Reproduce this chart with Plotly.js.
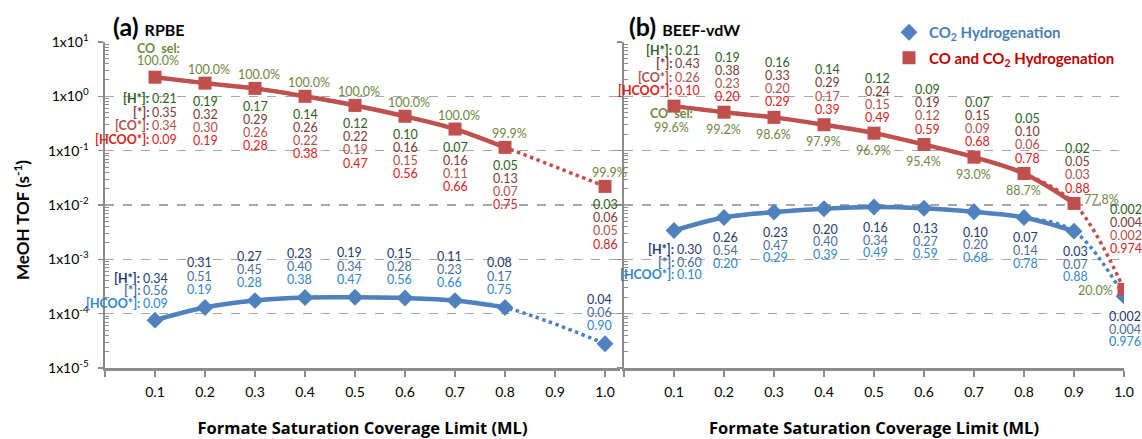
<!DOCTYPE html>
<html><head><meta charset="utf-8">
<script src="https://cdn.plot.ly/plotly-3.0.1.min.js"></script>
<style>html,body{margin:0;padding:0;background:#fff}#chart{width:1142px;height:439px}</style>
</head><body><div id="chart"></div>
<script>
// ---------- DATA ----------
const xTickVals = [0, 0.1, 0.2, 0.3, 0.4, 0.5, 0.6, 0.7, 0.8, 0.9, 1.0];
const xTickText = ['', '0.1', '0.2', '0.3', '0.4', '0.5', '0.6', '0.7', '0.8', '0.9', '1.0'];
const yTickVals = [1e1, 1e0, 1e-1, 1e-2, 1e-3, 1e-4, 1e-5];
const yTickText = ['1x10<sup>1</sup>', '1x10<sup>0</sup>', '1x10<sup>-1</sup>', '1x10<sup>-2</sup>', '1x10<sup>-3</sup>', '1x10<sup>-4</sup>', '1x10<sup>-5</sup>'];

// (a) RPBE
const rpbeX = [0.1, 0.2, 0.3, 0.4, 0.5, 0.6, 0.7, 0.8, 1.0];
const rpbeCO_TOF = [2.25, 1.75, 1.40, 1.00, 0.68, 0.43, 0.25, 0.115, 0.022];
const rpbeCO2_TOF = [7.6e-5, 1.3e-4, 1.74e-4, 1.98e-4, 2.0e-4, 1.94e-4, 1.74e-4, 1.3e-4, 2.8e-5];
const rpbeCO_sel = ['100.0%', '100.0%', '100.0%', '100.0%', '100.0%', '100.0%', '100.0%', '99.9%', '99.9%'];
const rpbeCO_H = ['0.21', '0.19', '0.17', '0.14', '0.12', '0.10', '0.07', '0.05', '0.03'];
const rpbeCO_empty = ['0.35', '0.32', '0.29', '0.26', '0.22', '0.16', '0.16', '0.13', '0.06'];
const rpbeCO_CO = ['0.34', '0.30', '0.26', '0.22', '0.19', '0.15', '0.11', '0.07', '0.05'];
const rpbeCO_HCOO = ['0.09', '0.19', '0.28', '0.38', '0.47', '0.56', '0.66', '0.75', '0.86'];
const rpbeCO2_H = ['0.34', '0.31', '0.27', '0.23', '0.19', '0.15', '0.11', '0.08', '0.04'];
const rpbeCO2_empty = ['0.56', '0.51', '0.45', '0.40', '0.34', '0.28', '0.23', '0.17', '0.06'];
const rpbeCO2_HCOO = ['0.09', '0.19', '0.28', '0.38', '0.47', '0.56', '0.66', '0.75', '0.90'];
const rpbeSolidCount = 8;

// (b) BEEF-vdW
const beefX = [0.1, 0.2, 0.3, 0.4, 0.5, 0.6, 0.7, 0.8, 0.9, 1.0];
const beefCO_TOF = [0.66, 0.51, 0.41, 0.30, 0.21, 0.13, 0.076, 0.038, 0.0107, 2.8e-4];
const beefCO2_TOF = [3.4e-3, 5.9e-3, 7.4e-3, 8.55e-3, 9.2e-3, 8.7e-3, 7.5e-3, 5.9e-3, 3.3e-3, 2.1e-4];
const beefCO_sel = ['99.6%', '99.2%', '98.6%', '97.9%', '96.9%', '95.4%', '93.0%', '88.7%', '77.8%', '20.0%'];
const beefCO_H = ['0.21', '0.19', '0.16', '0.14', '0.12', '0.09', '0.07', '0.05', '0.02', '0.002'];
const beefCO_empty = ['0.43', '0.38', '0.33', '0.29', '0.24', '0.19', '0.15', '0.10', '0.05', '0.004'];
const beefCO_CO = ['0.26', '0.23', '0.20', '0.17', '0.15', '0.12', '0.09', '0.06', '0.03', '0.002'];
const beefCO_HCOO = ['0.10', '0.20', '0.29', '0.39', '0.49', '0.59', '0.68', '0.78', '0.88', '0.974'];
const beefCO2_H = ['0.30', '0.26', '0.23', '0.20', '0.16', '0.13', '0.10', '0.07', '0.03', '0.002'];
const beefCO2_empty = ['0.60', '0.54', '0.47', '0.40', '0.34', '0.27', '0.20', '0.14', '0.07', '0.004'];
const beefCO2_HCOO = ['0.10', '0.20', '0.29', '0.39', '0.49', '0.59', '0.68', '0.78', '0.88', '0.976'];
const beefSolidCount = 9;

const seriesNames = ['CO<sub>2</sub> Hydrogenation', 'CO and CO<sub>2</sub> Hydrogenation'];

// ---------- STYLE ----------
const FONT = 'Lato, "Open Sans", sans-serif';
const FONT_WIDE = '"Open Sans", Lato, sans-serif';
const C = {
  red: '#C0504D', blue: '#4F81BD', legRed: '#C00000', legBlue: '#4A7EBB',
  H: '#2B5E22', E: '#7B3A3A', CO: '#B0504C', HCOO: '#E0201B', sel: '#6F8540',
  bH: '#1F3A6E', bE: '#4C6E9E', bHCOO: '#2E87CC', axis: '#8C8C8C', grid: '#A6A6A6'
};

// ---------- TRACES ----------
const traces = [];
function addSeries(xs, ys, solidN, color, symbol, msize, xa, ya, legend, name) {
  traces.push({x: xs, y: ys, xaxis: xa, yaxis: ya, mode: 'lines', showlegend: false, hoverinfo: 'skip',
    line: {color: color, width: 3.5, dash: 'dot', shape: 'spline', smoothing: 1}});
  traces.push({x: xs.slice(0, solidN), y: ys.slice(0, solidN), xaxis: xa, yaxis: ya, mode: 'lines', showlegend: false, hoverinfo: 'skip',
    line: {color: color, width: 4.5, shape: 'spline', smoothing: 1}});
  return {x: xs, y: ys, xaxis: xa, yaxis: ya, mode: 'markers', showlegend: legend, name: name, hoverinfo: 'skip',
    marker: {symbol: symbol, size: msize, color: color}};
}
const mA_blue = addSeries(rpbeX, rpbeCO2_TOF, rpbeSolidCount, C.blue, 'diamond', 13, 'x', 'y', true,
  '<b><span style="color:' + C.legBlue + '">' + seriesNames[0] + '</span></b>');
const mA_red = addSeries(rpbeX, rpbeCO_TOF, rpbeSolidCount, C.red, 'square', 13, 'x', 'y', true,
  '<b><span style="color:' + C.legRed + '">' + seriesNames[1] + '</span></b>');
const mB_blue = addSeries(beefX, beefCO2_TOF, beefSolidCount, C.blue, 'diamond', 13, 'x2', 'y2', false, '');
const mB_red = addSeries(beefX, beefCO_TOF, beefSolidCount, C.red, 'square', 13, 'x2', 'y2', false, '');
mA_blue.legendgroup = 'g1'; mA_red.legendgroup = 'g2';
traces.push(mA_blue, mA_red, mB_blue, mB_red);

// ---------- ANNOTATIONS ----------
const ann = [];
function T(xr, yr, x, v, text, color, dx, dy, anchor, size) {
  ann.push({xref: xr, yref: yr, x: x, y: Math.log10(v), text: text, showarrow: false,
    xanchor: anchor || 'center', yanchor: 'middle', xshift: dx, yshift: dy,
    font: {family: FONT, size: size || 12.5, color: color}});
}
const STEP = 13.2;

// (a) red
const aRedRows = [[rpbeCO_H, '[H*]:', C.H], [rpbeCO_empty, '[*]:', C.E], [rpbeCO_CO, '[CO*]:', C.CO], [rpbeCO_HCOO, '[HCOO*]:', C.HCOO]];
rpbeX.forEach((x, i) => {
  const v = rpbeCO_TOF[i];
  if (i === 0) {
    T('x', 'y', x, v, '<b>CO  sel:</b>', C.sel, 3, 29);
    T('x', 'y', x, v, rpbeCO_sel[i], C.sel, 3, 17);
    aRedRows.forEach((r, k) => {
      T('x', 'y', x, v, '<b>' + r[1] + '</b>', r[2], -4, -21 - 13.8 * k, 'right');
      T('x', 'y', x, v, r[0][i], r[2], -5, -21 - 13.8 * k, 'left');
    });
  } else {
    T('x', 'y', x, v, rpbeCO_sel[i], C.sel, 4, 14);
    aRedRows.forEach((r, k) => T('x', 'y', x, v, r[0][i], r[2], 0, -18 - STEP * k));
  }
});
// (a) blue
const aBlueRows = [[rpbeCO2_H, '[H*]:', C.bH], [rpbeCO2_empty, '[*]:', C.bE], [rpbeCO2_HCOO, '[HCOO*]:', C.bHCOO]];
rpbeX.forEach((x, i) => {
  const v = rpbeCO2_TOF[i];
  if (i === 0) {
    aBlueRows.forEach((r, k) => {
      T('x', 'y', x, v, '<b>' + r[1] + '</b>', r[2], -13, 42 - 12.6 * k, 'right');
      T('x', 'y', x, v, r[0][i], r[2], -14, 42 - 12.6 * k, 'left');
    });
  } else {
    aBlueRows.forEach((r, k) => T('x', 'y', x, v, r[0][i], r[2], -6, 44.5 - STEP * k));
  }
});
// (b) red
const bRedRows = [[beefCO_H, '[H*]:', C.H], [beefCO_empty, '[*]:', C.E], [beefCO_CO, '[CO*]:', C.CO], [beefCO_HCOO, '[HCOO*]:', C.HCOO]];
beefX.forEach((x, i) => {
  const v = beefCO_TOF[i];
  if (i === 0) {
    bRedRows.forEach((r, k) => {
      T('x2', 'y2', x, v, '<b>' + r[1] + '</b>', r[2], 0, 56 - 13.6 * k, 'right');
      T('x2', 'y2', x, v, r[0][i], r[2], -1, 56 - 13.6 * k, 'left');
    });
    T('x2', 'y2', x, v, '<b>CO  sel:</b>', C.sel, -3, -7);
    T('x2', 'y2', x, v, beefCO_sel[i], C.sel, -3, -21);
  } else if (i === beefX.length - 1) {
    bRedRows.forEach((r, k) => T('x2', 'y2', x, v, r[0][i], r[2], 2, 80 - STEP * k));
    T('x2', 'y2', x, v, beefCO_sel[i], C.sel, -9, -1, 'right');
  } else {
    bRedRows.forEach((r, k) => T('x2', 'y2', x, v, r[0][i], r[2], 3, 55 - STEP * k));
    if (i === beefX.length - 2) T('x2', 'y2', x, v, beefCO_sel[i], C.sel, 8, 4, 'left');
    else T('x2', 'y2', x, v, beefCO_sel[i], C.sel, -1, -17);
  }
});
// (b) blue
const bBlueRows = [[beefCO2_H, '[H*]:', C.bH], [beefCO2_empty, '[*]:', C.bE], [beefCO2_HCOO, '[HCOO*]:', C.bHCOO]];
beefX.forEach((x, i) => {
  const v = beefCO2_TOF[i];
  if (i === 0) {
    bBlueRows.forEach((r, k) => {
      T('x2', 'y2', x, v, '<b>' + r[1] + '</b>', r[2], 2, -19 - 12.6 * k, 'right');
      T('x2', 'y2', x, v, r[0][i], r[2], 1, -19 - 12.6 * k, 'left');
    });
  } else {
    bBlueRows.forEach((r, k) => T('x2', 'y2', x, v, r[0][i], r[2], 1, -20.5 - 12.6 * k));
  }
});

// panel titles and y title
const ML = 105, MR = 18, MT = 42, MB = 71, W = 1142, H = 439;
const PW = W - ML - MR, PH = H - MT - MB;
const px = p => (p - ML) / PW;
const py = p => 1 - (p - MT) / PH;
ann.push({xref: 'paper', yref: 'paper', x: px(111), y: py(26), xanchor: 'left', yanchor: 'middle', showarrow: false,
  text: '<b>(a) <span style="font-size:16px">RPBE</span></b>', font: {family: FONT, size: 25, color: '#000'}});
ann.push({xref: 'paper', yref: 'paper', x: px(627), y: py(26), xanchor: 'left', yanchor: 'middle', showarrow: false,
  text: '<b>(b) <span style="font-size:16px">BEEF-vdW</span></b>', font: {family: FONT, size: 25, color: '#000'}});
ann.push({xref: 'paper', yref: 'paper', x: px(21), y: py(220), xanchor: 'center', yanchor: 'middle', showarrow: false, textangle: -90,
  text: '<b>MeOH TOF (s<sup>-1</sup>)</b>', font: {family: FONT, size: 17, color: '#000'}});

// ---------- LAYOUT ----------
const minorVals = [];
for (let e = -5; e <= 0; e++) for (let d = 2; d <= 9; d++) minorVals.push(d * Math.pow(10, e));

function xAx(domain, range, anchor) {
  return {domain: domain, range: range, anchor: anchor, tickmode: 'array', tickvals: xTickVals, ticktext: xTickText,
    ticks: 'outside', ticklen: 6, tickwidth: 1.5, tickcolor: C.axis, showline: true, linecolor: C.axis, linewidth: 2.5,
    showgrid: false, zeroline: false, tickfont: {family: FONT, size: 14, color: '#000'}, ticklabelstandoff: 4,
    title: {text: '<b>Formate Saturation Coverage Limit (ML)</b>', font: {family: FONT_WIDE, size: 16.5, color: '#000'}, standoff: 25},
    fixedrange: true};
}
function yAx(anchor, labels) {
  return {type: 'log', range: [-5, 1], domain: [0, 1], anchor: anchor, tickmode: 'array', tickvals: yTickVals, ticktext: yTickText,
    showticklabels: labels, ticks: 'outside', ticklen: 5, tickwidth: 1.5, tickcolor: C.axis,
    showline: true, linecolor: C.axis, linewidth: 2.5, showgrid: true, gridcolor: C.grid, griddash: 'dash', gridwidth: 1.2,
    zeroline: false, tickfont: {family: FONT, size: 14, color: '#000'}, ticklabelstandoff: 6,
    minor: {tickmode: 'array', tickvals: minorVals, ticks: 'inside', ticklen: 4, tickwidth: 1, tickcolor: C.axis, showgrid: false},
    fixedrange: true};
}

const layout = {
  width: W, height: H, margin: {l: ML, r: MR, t: MT, b: MB},
  paper_bgcolor: '#fff', plot_bgcolor: '#fff', hovermode: false,
  font: {family: FONT, color: '#000'},
  xaxis: xAx([0, px(620)], [0, 1.03], 'y'),
  yaxis: yAx('x', true),
  xaxis2: xAx([px(624), 1], [0, 1.0], 'y2'),
  yaxis2: yAx('x2', false),
  showlegend: true,
  legend: {x: px(889), y: py(16), xanchor: 'left', yanchor: 'top', bgcolor: 'rgba(0,0,0,0)',
    font: {family: FONT, size: 15}, traceorder: 'grouped', tracegroupgap: 3, itemclick: false, itemdoubleclick: false},
  annotations: ann
};

Plotly.newPlot('chart', traces, layout, {displayModeBar: false, staticPlot: true});
</script>
</body></html>
